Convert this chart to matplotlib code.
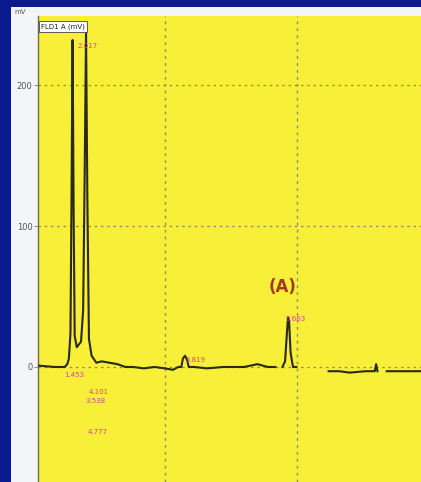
import numpy as np
import matplotlib
matplotlib.use("Agg")
import matplotlib.pyplot as plt
from matplotlib.patches import Rectangle

# trace vertices (min, mV); NaN breaks the line where the reference shows gaps
time_min = [0.19, 0.8, 1.2, 1.30, 1.36, 1.42, 1.46, 1.50, 1.54, 1.58, 1.66, 1.74,
            1.82, 1.90, 1.96, 2.01, 2.06, 2.12, 2.22, 2.40, 2.6, 2.9, 3.2, 3.5,
            3.8, 4.2, 4.6, 5.0, 5.3, 5.5, 5.62, 5.68, 5.76, 5.84, 5.90, 6.1,
            6.6, 7.2, 8.0, 8.5, 8.9, 9.0, 9.18, np.nan, 9.45, 9.55, 9.62, 9.66,
            9.70, 9.76, 9.85, 9.98, np.nan, 11.2, 11.6, 12.0, 12.6, 12.95, 13.0,
            13.05, np.nan, 13.4, 14.0, 14.7]
signal = [1, 0, 0, 2, 6, 24, 120, 232, 110, 22, 14, 16,
          18, 40, 140, 238, 120, 20, 8, 3, 4, 3, 2, 0,
          0, -1, 0, -1, -2, 0, 0, 6, 8, 5, 0, 0,
          -1, 0, 0, 2, 0, 0, 0, np.nan, 0, 4, 24, 35,
          33, 10, 0, 0, np.nan, -3, -3, -4, -3, -3, 2,
          -3, np.nan, -3, -3, -3]

# retention-time annotations
rt_labels = ["2.017", "1.453", "4.101", "3.538", "4.777", "5.819", "9.663"]
rt_x = [2.05, 1.55, 2.50, 2.35, 2.45, 6.15, 9.95]
rt_y = [228, -6, -18, -24, -46, 5, 34]

y_ticks = [0, 100, 200]

BLUE = "#0b1a8e"
PANEL = "#f3f5f9"
YELLOW = "#f7ef38"
TRACE = "#2a2a12"
MAGENTA = "#e0409c"
GRID = "#8f8f60"

fig = plt.figure(figsize=(4.21, 4.82), dpi=100)
fig.patch.set_facecolor(BLUE)
fig.patches.append(Rectangle((11 / 421, 0), 1, 1 - 7 / 482, transform=fig.transFigure,
                             facecolor=PANEL, edgecolor="none", zorder=-10))

ax = fig.add_axes([38 / 421, 0, 1 - 38 / 421, 1 - 16 / 482])
ax.set_facecolor(YELLOW)
ax.plot(time_min, signal, color=TRACE, linewidth=1.5, zorder=3)

ax.set_xlim(0.19, 14.7)
ax.set_ylim(-81.6, 249)
ax.set_yticks(y_ticks)
ax.set_yticklabels([str(v) for v in y_ticks], fontsize=6, color="#555555")
ax.tick_params(axis="y", length=3, width=0.6, color="#777777", pad=1)
ax.set_xticks([])
for v in y_ticks:
    ax.axhline(v, color=GRID, linestyle=(0, (2, 3)), linewidth=0.9, zorder=1)
for t in [5, 10]:
    ax.axvline(t, color=GRID, linestyle=(0, (2, 3)), linewidth=1.0, zorder=1)
for side in ["top", "right", "bottom"]:
    ax.spines[side].set_visible(False)
ax.spines["left"].set_color("#6b6b50")
ax.spines["left"].set_linewidth(1.0)

for lab, x, y in zip(rt_labels, rt_x, rt_y):
    ax.text(x, y, lab, fontsize=5, color=MAGENTA, ha="center", va="center", zorder=4)

ax.text(9.45, 57, "(A)", fontsize=12, fontweight="bold", color="#a4381c",
        ha="center", va="center", zorder=4)
ax.text(0.3, 244, "FLD1 A (mV)", fontsize=5, color="#222222", ha="left", va="top",
        bbox=dict(facecolor="white", edgecolor="#444444", linewidth=0.6, pad=1.5),
        zorder=5)
fig.text(14 / 421, 1 - 12 / 482, "mV", fontsize=5, color="#555555", va="center")

fig.savefig("out.png", dpi=100)
